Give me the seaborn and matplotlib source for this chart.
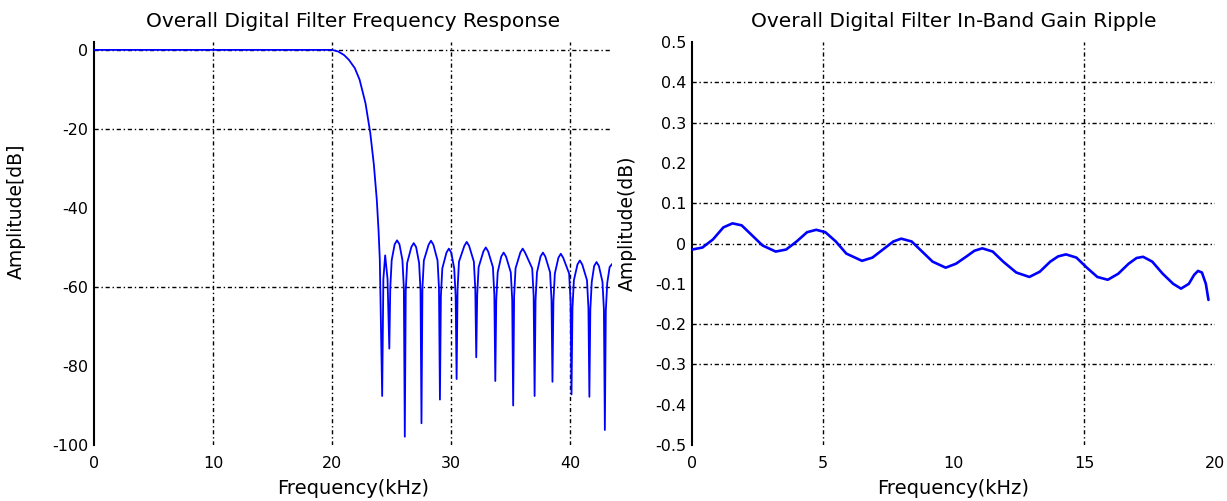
import matplotlib
matplotlib.use("Agg")
import matplotlib.pyplot as plt
import seaborn as sns
import pandas as pd

# ---------------- data ----------------
resp_freq_khz = [0, 5, 10, 15, 19, 20, 20.5, 21.0, 21.4, 21.9, 22.3, 22.8, 23.2, 23.5, 23.75, 23.9, 24.0,
                 24.2, 24.3, 24.45, 24.65, 24.8,
                 24.88, 25.0, 25.25, 25.45, 25.65, 25.9, 26.02, 26.1,
                 26.18, 26.3, 26.65, 26.85, 27.05, 27.3, 27.42, 27.5,
                 27.58, 27.7, 28.1, 28.3, 28.5, 28.85, 28.97, 29.05,
                 29.13, 29.25, 29.6, 29.8, 30.0, 30.25, 30.37, 30.45,
                 30.53, 30.65, 31.1, 31.3, 31.5, 31.9, 32.02, 32.1,
                 32.18, 32.3, 32.7, 32.9, 33.1, 33.5, 33.62, 33.7,
                 33.78, 33.9, 34.2, 34.4, 34.6, 35.0, 35.12, 35.2,
                 35.28, 35.4, 35.8, 36.0, 36.2, 36.8, 36.92, 37.0,
                 37.08, 37.2, 37.5, 37.7, 37.9, 38.3, 38.42, 38.5,
                 38.58, 38.7, 39.0, 39.2, 39.4, 39.9, 40.02, 40.1,
                 40.18, 40.3, 40.6, 40.8, 41.0, 41.4, 41.52, 41.6,
                 41.68, 41.8, 42.0, 42.2, 42.4, 42.7, 42.82, 42.9,
                 42.98, 43.1, 43.3, 43.5]
resp_db = [0, 0, 0, 0, 0, 0, -0.4, -1.3, -2.5, -4.6, -7.5, -13.5, -21, -29, -38, -46, -53,
           -87.6, -58, -52, -58, -75.6,
           -60.2, -53.2, -49.2, -48.2, -49.2, -53.2, -60.2, -97.9,
           -60.9, -53.9, -49.9, -48.9, -49.9, -53.9, -60.9, -94.5,
           -60.3, -53.3, -49.3, -48.3, -49.3, -53.3, -60.3, -88.5,
           -62.3, -55.3, -51.3, -50.3, -51.3, -55.3, -62.3, -83.3,
           -60.6, -53.6, -49.6, -48.6, -49.6, -53.6, -60.6, -77.8,
           -62.0, -55.0, -51.0, -50.0, -51.0, -55.0, -62.0, -83.8,
           -63.3, -56.3, -52.3, -51.3, -52.3, -56.3, -63.3, -90.0,
           -62.3, -55.3, -51.3, -50.3, -51.3, -55.3, -62.3, -87.6,
           -63.3, -56.3, -52.3, -51.3, -52.3, -56.3, -63.3, -84.0,
           -63.6, -56.6, -52.6, -51.6, -52.6, -56.6, -63.6, -87.2,
           -65.3, -58.3, -54.3, -53.3, -54.3, -58.3, -65.3, -87.8,
           -65.7, -58.7, -54.7, -53.7, -54.7, -58.7, -65.7, -96.2,
           -66.0, -59.0, -55.0, -54.2]

ripple_freq_khz = [0.0, 0.4, 0.8, 1.2, 1.55, 1.9, 2.3, 2.7, 3.2, 3.6, 4.0, 4.4, 4.75, 5.1, 5.5, 5.9,
                   6.5, 6.9, 7.3, 7.7, 8.0, 8.4, 8.8, 9.2, 9.7, 10.1, 10.5, 10.8, 11.1, 11.5, 11.9,
                   12.4, 12.9, 13.3, 13.7, 14.0, 14.3, 14.7, 15.1, 15.5, 15.9, 16.3, 16.7, 17.0,
                   17.25, 17.6, 18.0, 18.4, 18.7, 19.0, 19.2, 19.35, 19.5, 19.65, 19.75]
ripple_db = [-0.015, -0.01, 0.01, 0.04, 0.05, 0.045, 0.02, -0.005, -0.02, -0.015, 0.005, 0.028, 0.034,
             0.028, 0.005, -0.025, -0.043, -0.035, -0.015, 0.005, 0.012, 0.005, -0.02, -0.045, -0.06,
             -0.05, -0.032, -0.018, -0.012, -0.02, -0.045, -0.072, -0.083, -0.07, -0.045, -0.032,
             -0.027, -0.035, -0.06, -0.083, -0.09, -0.075, -0.05, -0.036, -0.033, -0.045, -0.075,
             -0.1, -0.112, -0.1, -0.078, -0.068, -0.072, -0.1, -0.14]

left_xticks = [0, 10, 20, 30, 40]
left_yticks = [0, -20, -40, -60, -80, -100]
right_xticks = [0, 5, 10, 15, 20]
right_yticks = [0.5, 0.4, 0.3, 0.2, 0.1, 0, -0.1, -0.2, -0.3, -0.4, -0.5]
right_ytick_labels = ["0.5", "0.4", "0.3", "0.2", "0.1", "0", "-0.1", "-0.2", "-0.3", "-0.4", "-0.5"]

# ---------------- style ----------------
sns.set_style("white")
plt.rcParams["font.family"] = ["DejaVu Sans"]

LINE_BLUE = "#0000ff"
GRID_KW = dict(color="black", lw=1.0, ls=(0, (3, 2, 1, 2)), zorder=0)

fig = plt.figure(figsize=(12.27, 5.01), dpi=100)
ax1 = fig.add_axes([94 / 1227, 56 / 501, 518 / 1227, 403 / 501])
ax2 = fig.add_axes([692 / 1227, 56 / 501, 523 / 1227, 403 / 501])

df1 = pd.DataFrame({"f": resp_freq_khz, "a": resp_db})
df2 = pd.DataFrame({"f": ripple_freq_khz, "a": ripple_db})

sns.lineplot(data=df1, x="f", y="a", ax=ax1, color=LINE_BLUE, lw=1.3, sort=False, zorder=3)
sns.lineplot(data=df2, x="f", y="a", ax=ax2, color=LINE_BLUE, lw=1.9, sort=False, zorder=3)

# grid lines (only those visible in the original)
for y in [0, -20, -60]:
    ax1.axhline(y, **GRID_KW)
for x in [10, 20, 30, 40]:
    ax1.axvline(x, **GRID_KW)
for y in [0.4, 0.3, 0.1, 0, -0.2, -0.3]:
    ax2.axhline(y, **GRID_KW)
for x in [5, 15]:
    ax2.axvline(x, **GRID_KW)

ax1.set_xlim(0, 43.5)
ax1.set_ylim(-100, 2)
ax1.set_xticks(left_xticks)
ax1.set_yticks(left_yticks)
ax1.set_xticklabels([str(v) for v in left_xticks])
ax1.set_yticklabels([str(v) for v in left_yticks])

ax2.set_xlim(0, 20)
ax2.set_ylim(-0.5, 0.5)
ax2.set_xticks(right_xticks)
ax2.set_yticks(right_yticks)
ax2.set_xticklabels([str(v) for v in right_xticks])
ax2.set_yticklabels(right_ytick_labels)

for ax in (ax1, ax2):
    for s in ("top", "right", "bottom"):
        ax.spines[s].set_visible(False)
    ax.spines["left"].set_color("black")
    ax.spines["left"].set_linewidth(1.5)
    ax.tick_params(axis="both", length=0, labelsize=11.5, colors="black")
    ax.tick_params(axis="x", pad=8)
    ax.tick_params(axis="y", pad=4)
    ax.set_xlabel("Frequency(kHz)", fontsize=14, color="black")
    ax.xaxis.set_label_coords(0.5, -0.085)

ax1.set_ylabel("Amplitude[dB]", fontsize=13.5, color="black")
ax2.set_ylabel("Amplitude(dB)", fontsize=13.5, color="black")
ax1.yaxis.set_label_coords(-0.131, 0.58)
ax2.yaxis.set_label_coords(-0.105, 0.55)

ax1.set_title("Overall Digital Filter Frequency Response", fontsize=14.5, pad=11, color="black")
ax2.set_title("Overall Digital Filter In-Band Gain Ripple", fontsize=14.5, pad=11, color="black")

fig.savefig("out.png", dpi=100)
